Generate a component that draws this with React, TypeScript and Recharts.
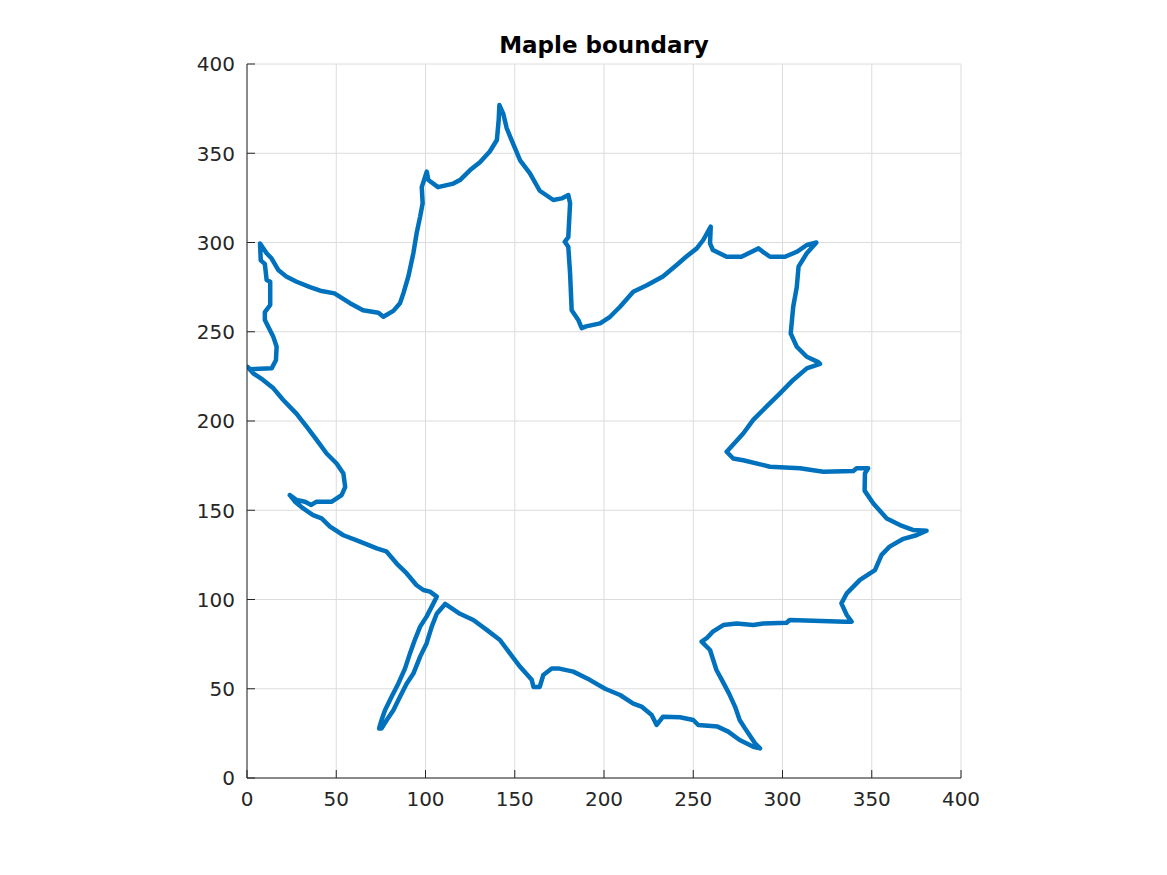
import React from "react";
import { LineChart, Line, XAxis, YAxis, CartesianGrid } from "recharts";

const chartTitle = "Maple boundary";
const xTicks = [0, 50, 100, 150, 200, 250, 300, 350, 400];
const yTicks = [0, 50, 100, 150, 200, 250, 300, 350, 400];

// Boundary traced in order (x, y)
const boundaryX = [
  24, 27.8, 32.5, 36, 39, 47.5, 53, 55, 54, 50.2, 44.6, 39, 33.4, 27.8, 20.3, 14.8, 9, 3.5, 0.2, 1.7, 13.8, 16.2, 16.6, 14.8, 10, 10, 13, 13, 11, 10, 7.7, 7.3,
  11, 13.8, 17.5, 22, 27.8, 35.3, 41, 49, 57.7, 65, 73.6, 76.4, 82, 85.7, 87.6, 90.4, 93.2, 95, 97, 98.4, 97.9, 100.7,
  101.6, 107, 115.6, 119.3, 125, 130.5, 136, 140, 141, 141.4,
  143.6, 145.5, 149, 153, 158.5, 164, 171.6, 176.3, 180, 181, 180, 178, 180, 181, 181.9, 185.6, 187.5, 190, 197.8, 203.4, 209, 216.4, 224, 233, 240.7, 246, 252, 255.6, 259.8,
  259.4, 261, 268.7, 277, 281, 286.6, 289, 293, 301.4, 308, 313.6, 319,
  313.6, 309, 308, 306, 304.6, 308, 313.6, 320, 321,
  313.6, 306, 298.6, 291, 283.6, 278, 268.7,
  272.4, 278, 293, 309.8, 322.9, 339.7, 341.5, 348,
  346.2, 346, 350.9, 358.4, 365.8, 373, 380.7,
  375, 367.7, 360, 355.5, 351.8, 343.4, 336, 333, 336, 338.7, 335, 304, 302.3, 289.2, 283.6, 274.3, 266.8, 261, 257.5, 254.7,
  259.4, 263, 266, 270, 273.4, 276, 279, 284.6, 287.4,
  283.6, 276, 269.6, 263.6, 252.8, 250, 242.6, 233, 229.5,
  226.7, 221, 216.4, 209, 200.6, 192, 182.8, 175, 170.7, 166, 164, 160.5, 159.5, 153, 147.3, 141.7, 134.3, 126.8, 119.3, 111,
  106.3, 103.5, 100.6, 97, 93.2, 89.5, 85.7, 82, 78.3, 75.4,
  74, 75.4, 77.3, 81, 84.8, 88.5, 91.3, 94, 97, 100.6, 103.5, 106.3,
  102.5, 98.8, 95, 89.5, 84, 78, 72.7, 63.3, 54, 46.5, 41.8, 37, 31.5, 26.9, 24,
];
const boundaryY = [
  158.5, 155.7, 154.8, 153, 154.8, 154.8, 158.5, 163, 170.6, 176.2, 181.8, 189.4, 196.8, 204, 211.8, 218.3, 223, 226.7, 230.4, 229, 229.5, 234, 241.6, 247, 256.6, 261, 265, 278, 279, 288, 290, 299.5,
  294, 291, 284.6, 281, 278, 275, 273, 271.5, 266, 262, 260.7, 258.4, 261.7, 266, 271.5, 281, 294, 305, 314.5, 322, 331, 339.7,
  335, 331, 333, 335, 340.6, 345, 351, 357.4, 368.6, 377,
  372, 364, 355.5, 346, 338.7, 329, 323.8, 324.7, 326.6, 322, 303, 300.4, 297.6, 282.6, 262, 256.6, 252, 253, 254.7, 258.4, 264, 272.4, 276, 281, 287.4, 292, 296.7, 301.4, 308.9,
  299.5, 295.8, 292, 292, 294, 296.7, 294.8, 292, 292, 294.8, 298.6, 300,
  294, 286.5, 275, 264, 249, 241.6, 236, 233, 232,
  229.5, 223, 215.5, 208, 200.6, 193, 182.8,
  179, 178, 174.4, 173.5, 171.6, 172, 173.5, 173.5,
  170.7, 161, 153.8, 145.4, 141.7, 139, 138.5,
  136, 134, 129.6, 125, 116.5, 111, 103.4, 97.8, 91.3, 87.6, 87.6, 88.5, 87, 86.6, 85.7, 86.6, 85.7, 82, 78.3, 76.4,
  71.7, 60.5, 55, 47.4, 40, 32.5, 27.8, 19.4, 16.6,
  17.5, 21.3, 26, 28.8, 29.7, 32.5, 34, 34.3, 29.7,
  35.3, 40, 41.7, 46.5, 50, 55, 59.6, 61.3, 61.3, 57.7, 51, 51, 55, 62.3, 69.8, 77.3, 83, 88.5, 92, 97.5,
  92, 84.8, 75.4, 68, 58.5, 53, 45.5, 38, 32.5, 27.8,
  27.8, 32.5, 38, 45.5, 53, 61.3, 69.8, 77.3, 84.8, 90.4, 96, 101.6,
  104.4, 105.3, 108, 114.6, 120, 127, 128.6, 132.4, 136, 140.8, 145.4, 147.3, 151, 154.8, 158.5,
];

const data = boundaryX.map((x, i) => ({ x, y: boundaryY[i] }));

const AXIS = "#262626";
const FONT = "DejaVu Sans";
const TL = 8;

// plot frame (page pixels), set by chart size and margins below
const W = 1167;
const H = 875;
const M = { top: 64, right: 206, bottom: 57, left: 187 };
const Y_AXIS_W = 60;
const X_AXIS_H = 40;
const PLOT_L = M.left + Y_AXIS_W;
const PLOT_R = W - M.right;
const PLOT_T = M.top;
const PLOT_B = H - M.bottom - X_AXIS_H;

const BottomTick = (p: any) => (
  <g>
    <line x1={p.x} y1={PLOT_B} x2={p.x} y2={PLOT_B - TL} stroke={AXIS} strokeWidth={1} />
    <text x={p.x} y={PLOT_B + 27.5} textAnchor="middle" fontSize={20} fontFamily={FONT} fill={AXIS}>
      {p.payload.value}
    </text>
  </g>
);
const TopTick = (p: any) => (
  <line x1={p.x} y1={PLOT_T} x2={p.x} y2={PLOT_T + TL} stroke={AXIS} strokeWidth={1} />
);
const LeftTick = (p: any) => (
  <g>
    <line x1={PLOT_L} y1={p.y} x2={PLOT_L + TL} y2={p.y} stroke={AXIS} strokeWidth={1} />
    <text x={PLOT_L - 12} y={p.y + 7.3} textAnchor="end" fontSize={20} fontFamily={FONT} fill={AXIS}>
      {p.payload.value}
    </text>
  </g>
);
const RightTick = (p: any) => (
  <line x1={PLOT_R} y1={p.y} x2={PLOT_R - TL} y2={p.y} stroke={AXIS} strokeWidth={1} />
);

export default function App() {
  return (
    <div style={{ position: "absolute", left: 0, top: 0, width: W, height: H, background: "#fff" }}>
      <div
        style={{
          position: "absolute",
          left: 404,
          width: 400,
          top: 34,
          textAlign: "center",
          fontFamily: FONT,
          fontWeight: "bold",
          fontSize: 23,
          lineHeight: "23px",
          color: "#000",
        }}
      >
        {chartTitle}
      </div>
      <LineChart width={W} height={H} data={data} margin={M}>
        <CartesianGrid stroke="#dcdcdc" strokeWidth={1} />
        <XAxis
          dataKey="x"
          type="number"
          domain={[0, 400]}
          ticks={xTicks}
          interval={0}
          height={X_AXIS_H}
          tickLine={false}
          axisLine={{ stroke: AXIS }}
          tick={BottomTick}
          allowDataOverflow
        />
        <XAxis
          xAxisId="top"
          orientation="top"
          dataKey="x"
          type="number"
          domain={[0, 400]}
          ticks={xTicks}
          interval={0}
          height={0}
          tickLine={false}
          axisLine={{ stroke: AXIS }}
          tick={TopTick}
          allowDataOverflow
        />
        <YAxis
          type="number"
          domain={[0, 400]}
          ticks={yTicks}
          interval={0}
          width={Y_AXIS_W}
          tickLine={false}
          axisLine={{ stroke: AXIS }}
          tick={LeftTick}
          allowDataOverflow
        />
        <YAxis
          yAxisId="right"
          orientation="right"
          type="number"
          domain={[0, 400]}
          ticks={yTicks}
          interval={0}
          width={0}
          tickLine={false}
          axisLine={{ stroke: AXIS }}
          tick={RightTick}
          allowDataOverflow
        />
        <Line
          type="linear"
          dataKey="y"
          stroke="#0072BD"
          strokeWidth={4.5}
          dot={false}
          isAnimationActive={false}
          strokeLinejoin="round"
          strokeLinecap="round"
        />
      </LineChart>
    </div>
  );
}
